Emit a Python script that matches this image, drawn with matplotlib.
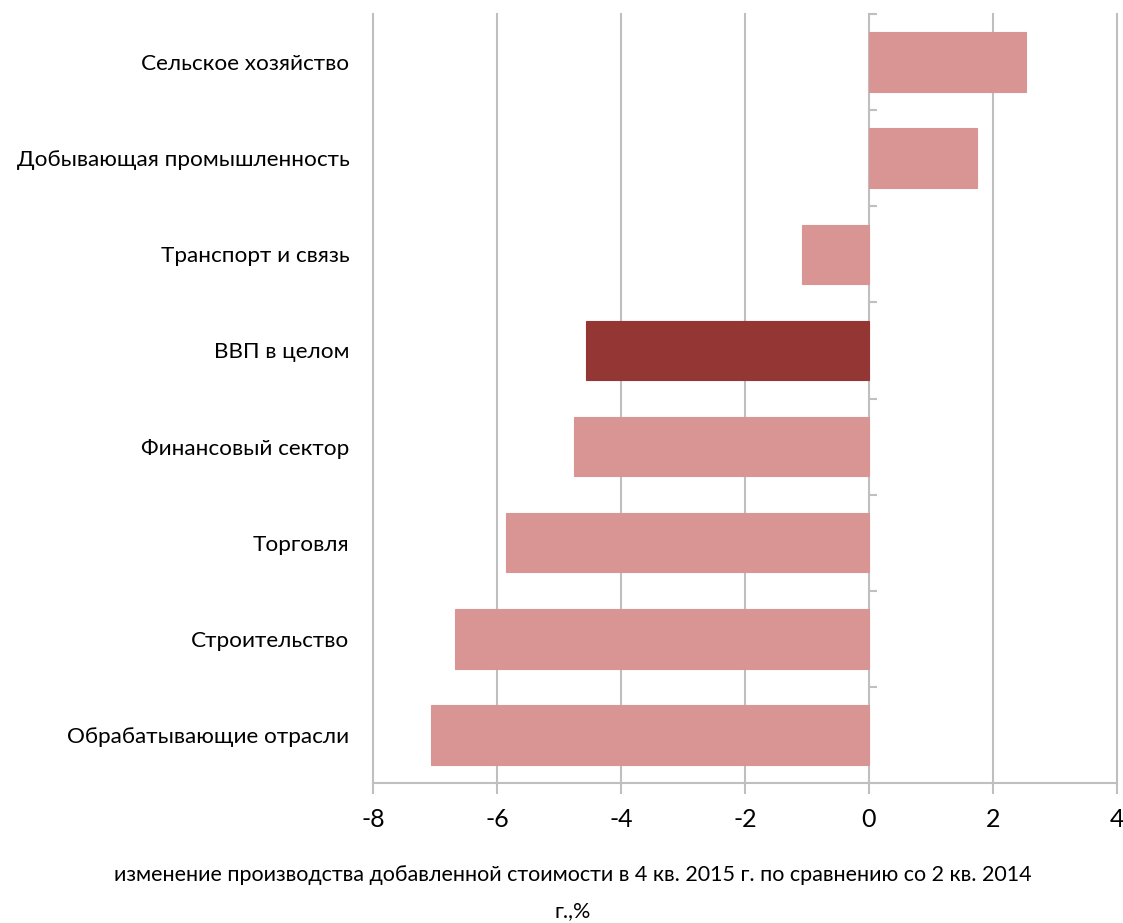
import matplotlib
matplotlib.use("Agg")
import matplotlib.pyplot as plt
import numpy as np

categories = ["Сельское хозяйство", "Добывающая промышленность", "Транспорт и связь",
              "ВВП в целом", "Финансовый сектор", "Торговля", "Строительство",
              "Обрабатывающие отрасли"]
values = [2.53, 1.74, -1.08, -4.56, -4.76, -5.85, -6.68, -7.06]
highlight = "ВВП в целом"
xticks = [-8, -6, -4, -2, 0, 2, 4]
xlabel = "изменение производства добавленной стоимости в 4 кв. 2015 г. по сравнению со 2 кв. 2014\nг.,%"

plt.rcParams['font.family'] = ['Lato', 'DejaVu Sans']

W, H = 1123, 923
fig = plt.figure(figsize=(W / 100, H / 100), dpi=100)
ax = fig.add_axes([373 / W, 1 - 783 / H, (1117 - 373) / W, (783 - 14) / H])

light = "#D99594"
dark = "#943634"
grid_c = "#BFBFBF"

y = np.arange(len(categories))
colors = [dark if c == highlight else light for c in categories]
ax.barh(y, values, height=0.62, color=colors, edgecolor=colors, linewidth=0.8, zorder=3)

ax.set_xlim(-8, 4)
ax.set_ylim(len(categories) - 0.5, -0.5)
ax.set_xticks(xticks)
ax.set_xticklabels([str(t) for t in xticks], fontsize=18)
ax.tick_params(axis='x', direction='out', length=8, width=1.5, color=grid_c, pad=10)
ax.set_yticks(y)
ax.set_yticklabels(categories, fontsize=16.2)
ax.tick_params(axis='y', length=0, pad=17)

ax.grid(axis='x', color=grid_c, linewidth=1.5, zorder=0)
for gl in ax.get_xgridlines():
    gl.set_clip_on(False)
for s in ['top', 'right', 'left']:
    ax.spines[s].set_visible(False)
ax.spines['bottom'].set_color(grid_c)
ax.spines['bottom'].set_linewidth(1.5)

# zero axis line with category boundary ticks
sec = ax.secondary_yaxis((0 - (-8)) / 12)
sec.set_yticks(np.arange(-0.5, len(categories), 1.0))
sec.set_yticklabels([])
sec.tick_params(axis='y', direction='out', length=6, width=1.5, color=grid_c)
sec.spines['left'].set_color(grid_c)
sec.spines['left'].set_linewidth(1.5)
for s in ['top', 'right', 'bottom']:
    sec.spines[s].set_visible(False)

fig.text(573 / W, 1 - 893 / H, xlabel, ha='center', va='center', fontsize=15.5,
         linespacing=2.0)

fig.savefig("out.png", dpi=100, facecolor='white')
